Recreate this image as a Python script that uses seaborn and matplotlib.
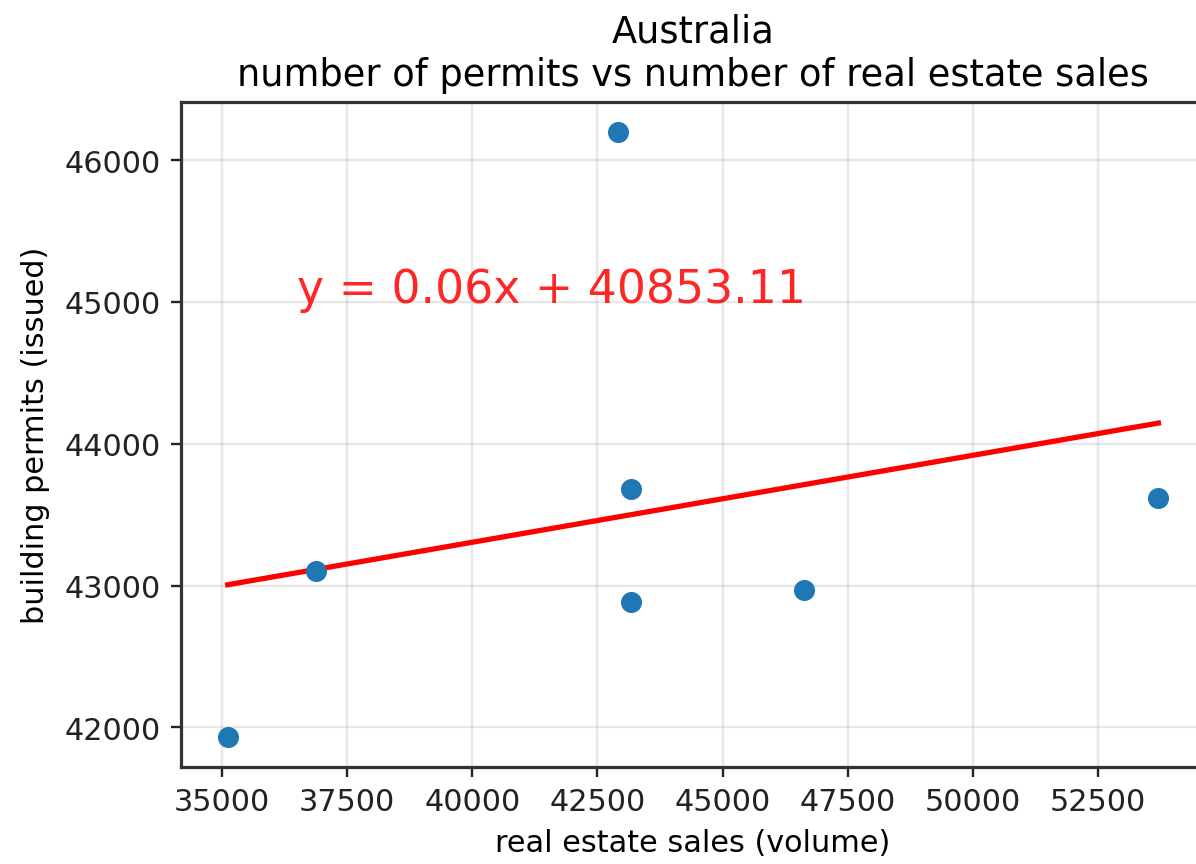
import numpy as np
import pandas as pd
import matplotlib
matplotlib.use("Agg")
import matplotlib.pyplot as plt
import seaborn as sns

# Yearly real estate sales volume vs building permits issued, Australia
sales_volume = [35114, 36878, 42919, 43167, 43167, 46635, 53709]
permits_issued = [41934, 43100, 46196, 43681, 42881, 42968, 43615]

# Fitted linear trend
slope = 0.0613
intercept = 40853.11

country = "Australia"
title = f"{country}\nnumber of permits vs number of real estate sales"
x_label = "real estate sales (volume)"
y_label = "building permits (issued)"

df = pd.DataFrame({"sales": sales_volume, "permits": permits_issued})
trend_x = np.array([min(sales_volume), max(sales_volume)])
trend = pd.DataFrame({"sales": trend_x, "permits": slope * trend_x + intercept})

plt.rcParams["font.family"] = ["DejaVu Sans"]
plt.rcParams["axes.linewidth"] = 1.1
plt.rcParams["axes.edgecolor"] = "#333333"

dpi = 210
fig = plt.figure(figsize=(1196 / dpi, 865 / dpi), dpi=dpi)
ax = fig.add_axes([0.1515, 0.1122, 0.856, 0.7687])

sns.scatterplot(data=df, x="sales", y="permits", ax=ax, color="#1f77b4",
                s=52, linewidth=0, zorder=3)
sns.lineplot(data=trend, x="sales", y="permits", ax=ax, color="red",
             linewidth=1.8, zorder=2)

ax.text(36500, 45000, f"y = {slope:.2f}x + {intercept:.2f}",
        color="red", fontsize=15.7, alpha=0.85)

ax.grid(True, color="#b0b0b0", alpha=0.3, linewidth=0.8)
ax.set_axisbelow(True)
ax.set_title(title, fontsize=12.6)
ax.set_xlabel(x_label, fontsize=10.4)
ax.set_ylabel(y_label, fontsize=10.4, labelpad=5)
ax.tick_params(labelsize=10.4, colors="#222222")
ax.set_xticks(np.arange(35000, 52501, 2500))
ax.set_yticks(np.arange(42000, 46001, 1000))

fig.savefig("out.png", dpi=dpi)
